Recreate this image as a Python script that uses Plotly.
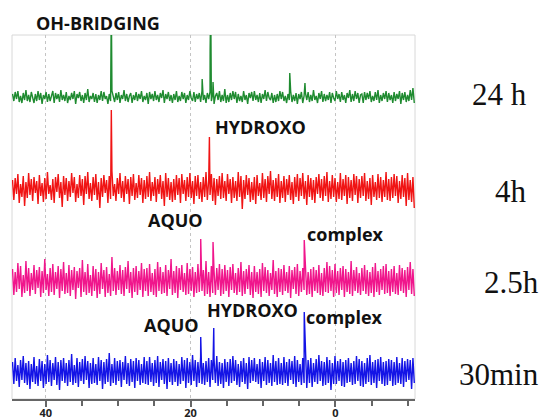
import numpy as np
import plotly.graph_objects as go

# chemical shift grid (ppm), high to low
ppm = np.linspace(44.6, -10.9, 300)

# baseline noise for each spectrum (arbitrary intensity units)
noise_24h = [
    3, -4, 5, -2, 6, -5, 1, -6, 4, -3, 7, -4, 2, -5, 5, -1, -6, 3, -4, 6,
    -3, 4, -7, 2, -2, 5, -5, 3, -4, 1, 6, -6, 4, -2, 3, -5, 7, -3, 2, -4,
    5, -6, 1, -3, 4, -2, 6, -7, 3, -1, 5, -4, 2, -6, 4, -3, 8, -5, 1, -2,
    4, -5, 3, -6, 2, -3, 6, -4, 5, -2, 1, -7, 3, -4, 6, -1, -5, 4, -3, 5,
    -6, 2, -2, 7, -4, 3, -5, 1, 4, -6, 2, -3, 5, -4, 3, -2, 6, -5, 1, -3,
    4, -7, 5, -2, 3, -4, 6, -3, 2, -5, 4, -1, 7, -6, 3, -2, 5, -4, 2, -6,
    3, -3, 6, -5, 1, -4, 5, -2, 4, -6, 2, -3, 6, -1, -4, 5, -5, 3, -2, 4,
    -5, 6, -3, 2, -6, 4, -2, 5, -4, 3, -7, 1, 4, -3, 6, -5, 2, -4, 8, -6,
    2, -5, 4, -3, 6, -2, 5, -6, 3, -4, 1, -5, 6, -3, 2, -7, 4, -1, 5, -4,
    6, -3, 2, -5, 4, -6, 3, -2, 7, -4, 5, -1, -3, 4, -6, 2, -5, 3, -4, 6,
    -2, 5, -4, 1, -6, 3, -3, 6, -5, 2, -4, 4, -7, 3, -2, 5, -6, 1, 4, -3,
    5, -5, 2, -4, 7, -3, 1, -6, 4, -2, 6, -5, 3, -4, 2, -3, 5, -6, 4, -1,
    -4, 6, -2, 3, -5, 5, -3, 2, -6, 4, -1, 7, -5, 3, -4, 6, -2, 4, -6, 2,
    3, -6, 5, -3, 4, -2, 6, -5, 1, -4, 5, -3, 7, -6, 2, -4, 4, -2, 6, -5,
    4, -3, 2, -6, 5, -4, 3, -2, 6, -7, 4, -3, 5, -5, 2, -4, 7, -3, 9, -6,
]
noise_4h = [
    8, -12, 10, -6, 14, -15, 4, -9, 12, -18, 6, -10, 15, -7, 9, -13, 11, -5, 7, -16,
    13, -8, 5, -14, 10, -11, 16, -6, 3, -12, 9, -15, 11, -4, 14, -10, 6, -19, 12, -7,
    10, -13, 7, -9, 15, -5, 11, -14, 4, -10, 13, -8, 9, -17, 12, -6, 16, -11, 5, -13,
    11, -7, 14, -12, 6, -20, 10, -9, 13, -5, 8, -15, 12, -11, 17, -8, 4, -13, 10, -6,
    15, -10, 7, -14, 12, -6, 9, -16, 11, -8, 14, -12, 5, -10, 13, -7, 10, -15, 8, -11,
    12, -9, 16, -13, 6, -8, 11, -14, 9, -6, 13, -11, 7, -18, 15, -9, 10, -12, 6, -14,
    9, -12, 13, -7, 10, -15, 14, -6, 8, -13, 11, -9, 15, -10, 7, -16, 12, -8, 13, -11,
    6, -14, 11, -9, 16, -12, 8, -7, 14, -13, 10, -17, 9, -8, 12, -11, 15, -10, 7, -13,
    14, -6, 9, -15, 11, -10, 7, -13, 16, -9, 12, -21, 8, -11, 13, -7, 10, -14, 6, -12,
    11, -16, 13, -8, 5, -12, 15, -10, 9, -14, 12, -6, 17, -11, 8, -13, 10, -9, 14, -15,
    7, -10, 12, -14, 9, -7, 13, -12, 6, -16, 11, -9, 14, -13, 10, -8, 15, -11, 7, -17,
    13, -9, 10, -12, 8, -15, 11, -6, 14, -10, 9, -13, 12, -8, 16, -14, 7, -11, 13, -9,
    10, -14, 6, -11, 15, -12, 9, -8, 13, -16, 11, -10, 8, -13, 14, -7, 12, -15, 9, -10,
    12, -8, 15, -13, 7, -11, 10, -17, 13, -9, 6, -12, 14, -10, 11, -14, 8, -9, 16, -12,
    9, -13, 11, -10, 14, -8, 12, -15, 7, -11, 13, -9, 10, -18, 15, -12, 8, -14, 11, -20,
]
noise_2_5h = [
    12, -14, 9, -11, 18, -8, 15, -16, 6, -12, 20, -10, 13, -15, 8, -9, 16, -13, 11, -7,
    14, -16, 10, -12, 22, -9, 7, -15, 13, -11, 17, -14, 9, -8, 15, -17, 12, -10, 19, -13,
    8, -12, 16, -15, 11, -9, 14, -18, 10, -7, 13, -16, 21, -11, 9, -14, 17, -12, 6, -15,
    15, -10, 12, -17, 9, -13, 18, -8, 11, -16, 14, -12, 7, -15, 24, -10, 13, -14, 10, -9,
    16, -13, 11, -15, 14, -8, 20, -12, 9, -17, 13, -11, 15, -14, 10, -9, 18, -16, 12, -10,
    13, -15, 17, -11, 8, -14, 12, -16, 19, -10, 14, -13, 9, -12, 16, -15, 11, -8, 22, -14,
    10, -12, 15, -17, 13, -9, 16, -11, 8, -14, 18, -13, 12, -10, 14, -16, 9, -12, 17, -11,
    14, -10, 11, -15, 20, -13, 9, -16, 15, -12, 10, -14, 13, -9, 17, -15, 12, -13, 16, -10,
    11, -16, 14, -9, 17, -12, 8, -14, 13, -11, 19, -15, 10, -13, 12, -8, 16, -14, 9, -17,
    15, -11, 9, -13, 12, -16, 18, -10, 14, -12, 11, -15, 8, -9, 21, -13, 10, -16, 13, -11,
    12, -14, 16, -10, 9, -12, 15, -17, 11, -8, 14, -13, 17, -15, 10, -11, 13, -9, 18, -14,
    9, -13, 12, -16, 14, -10, 11, -12, 16, -14, 8, -15, 13, -11, 19, -12, 15, -10, 11, -16,
    17, -12, 10, -14, 13, -9, 15, -16, 12, -11, 9, -13, 20, -15, 11, -10, 14, -12, 8, -14,
    13, -10, 16, -13, 11, -15, 9, -12, 14, -16, 18, -11, 10, -14, 12, -9, 15, -13, 17, -12,
    10, -15, 12, -11, 15, -13, 8, -14, 16, -10, 13, -12, 11, -16, 14, -9, 19, -13, 12, -15,
]
noise_30min = [
    10, -12, 14, -9, 7, -15, 12, -8, 16, -11, 9, -13, 11, -17, 8, -10, 15, -12, 6, -14,
    13, -9, 11, -16, 8, -12, 17, -10, 12, -14, 9, -8, 15, -13, 10, -18, 12, -9, 14, -11,
    9, -14, 12, -10, 18, -13, 7, -11, 14, -15, 10, -9, 13, -12, 16, -8, 11, -16, 9, -12,
    14, -11, 8, -13, 15, -9, 12, -17, 10, -12, 13, -10, 19, -14, 8, -11, 14, -13, 11, -9,
    12, -15, 10, -8, 16, -12, 9, -14, 13, -10, 11, -16, 14, -9, 12, -13, 8, -11, 15, -12,
    11, -13, 15, -10, 9, -14, 12, -11, 16, -15, 10, -8, 13, -12, 11, -17, 14, -10, 9, -13,
    13, -10, 11, -14, 8, -12, 15, -9, 12, -16, 14, -11, 10, -13, 17, -9, 12, -15, 10, -11,
    15, -12, 9, -13, 11, -10, 14, -15, 12, -8, 13, -11, 16, -14, 10, -12, 9, -16, 13, -10,
    10, -14, 13, -11, 16, -9, 12, -13, 8, -15, 11, -10, 14, -12, 9, -17, 15, -11, 12, -9,
    14, -10, 8, -12, 13, -16, 10, -9, 15, -13, 12, -11, 9, -14, 17, -10, 11, -13, 14, -12,
    9, -13, 15, -11, 10, -14, 13, -8, 11, -12, 16, -15, 12, -10, 8, -13, 14, -11, 10, -16,
    12, -11, 14, -15, 9, -10, 13, -12, 17, -9, 11, -14, 10, -13, 15, -11, 12, -18, 9, -12,
    16, -12, 11, -9, 13, -14, 10, -15, 12, -11, 14, -10, 9, -13, 11, -12, 16, -9, 13, -14,
    11, -15, 9, -12, 14, -10, 17, -13, 10, -11, 12, -16, 13, -9, 15, -12, 10, -14, 11, -13,
    13, -9, 12, -14, 10, -13, 15, -11, 9, -12, 14, -15, 11, -10, 13, -8, 12, -17, 14, -11,
]

# resolved signals: shift (ppm) and height above baseline
peaks_24h_ppm = [30.95, 18.4, 17.3, 17.22, 16.9, 6.3, 4.2]
peaks_24h_int = [95, 18, 48, 95, 15, 24, 14]
peaks_4h_ppm = [30.95, 17.4]
peaks_4h_int = [78, 51]
peaks_2_5h_ppm = [18.6, 16.9, 4.3]
peaks_2_5h_int = [42, 39, 41]
peaks_30min_ppm = [18.6, 16.8, 4.3]
peaks_30min_int = [35, 44, 60]

# vertical stacking offsets of the four spectra
offsets = {"24 h": 302, "4h": 211, "2.5h": 118, "30min": 27}
colors = {"24 h": "#1f8b30", "4h": "#f01414", "2.5h": "#f0168c", "30min": "#1414e6"}

series = {
    "24 h": (noise_24h, peaks_24h_ppm, peaks_24h_int),
    "4h": (noise_4h, peaks_4h_ppm, peaks_4h_int),
    "2.5h": (noise_2_5h, peaks_2_5h_ppm, peaks_2_5h_int),
    "30min": (noise_30min, peaks_30min_ppm, peaks_30min_int),
}

# plot area in pixels
W, H = 547, 419
L, R, T, B = 12, 415, 35, 399


def px(x, y):
    return (x - L) / (R - L), (B - y) / (B - T)


fig = go.Figure()
for name, (noise, pk_x, pk_y) in series.items():
    x = np.concatenate([ppm, pk_x])
    y = np.concatenate([np.asarray(noise, float), pk_y]) + offsets[name]
    order = np.argsort(-x)
    fig.add_trace(go.Scatter(
        x=x[order], y=y[order], mode="lines", name=name,
        line=dict(color=colors[name], width=1.4),
        hoverinfo="skip", showlegend=False,
    ))

# frame around the plot area
fig.add_shape(type="rect", xref="paper", yref="paper", x0=0, x1=1, y0=0, y1=1,
              line=dict(color="#d8d8d8", width=1), layer="below")

bold = dict(family="Open Sans", size=18, color="#111111", weight="bold")
peak_labels = [
    ("OH-BRIDGING", 97.5, 23),
    ("HYDROXO", 260, 127),
    ("AQUO", 175.5, 220),
    ("complex", 345, 234),
    ("AQUO", 171.5, 325),
    ("HYDROXO", 252.5, 310),
    ("complex", 344.5, 317),
]
for text, x, y in peak_labels:
    xp, yp = px(x, y)
    fig.add_annotation(text=text, x=xp, y=yp, xref="paper", yref="paper",
                       showarrow=False, xanchor="center", yanchor="middle",
                       font=bold)

time_labels = [("24 h", 499.5, 94), ("4h", 511, 191), ("2.5h", 511.5, 282), ("30min", 499, 374)]
for text, x, y in time_labels:
    xp, yp = px(x, y)
    fig.add_annotation(text=text, x=xp, y=yp, xref="paper", yref="paper",
                       showarrow=False, xanchor="center", yanchor="middle",
                       font=dict(family="Liberation Serif", size=31, color="#111111"))

fig.update_xaxes(
    range=[44.67, -11.0], showline=True, linecolor="#666666", linewidth=1.5,
    ticks="outside", ticklen=6, tickwidth=1.5, tickcolor="#666666",
    tick0=0, dtick=20, showgrid=True, gridcolor="#c4c4c4", griddash="dot",
    gridwidth=1, zeroline=False, automargin=False, ticklabelstandoff=-3,
    tickfont=dict(family="Open Sans", size=11, color="#222222", weight="bold"),
    minor=dict(ticks="outside", dtick=5, tick0=0, ticklen=5, tickwidth=1.5,
               tickcolor="#666666", showgrid=False),
)
fig.update_yaxes(range=[0, B - T], visible=False, automargin=False)
fig.update_layout(
    width=W, height=H, margin=dict(l=L, r=W - R, t=T, b=H - B),
    paper_bgcolor="white", plot_bgcolor="white",
)

fig.write_html("out.html")
